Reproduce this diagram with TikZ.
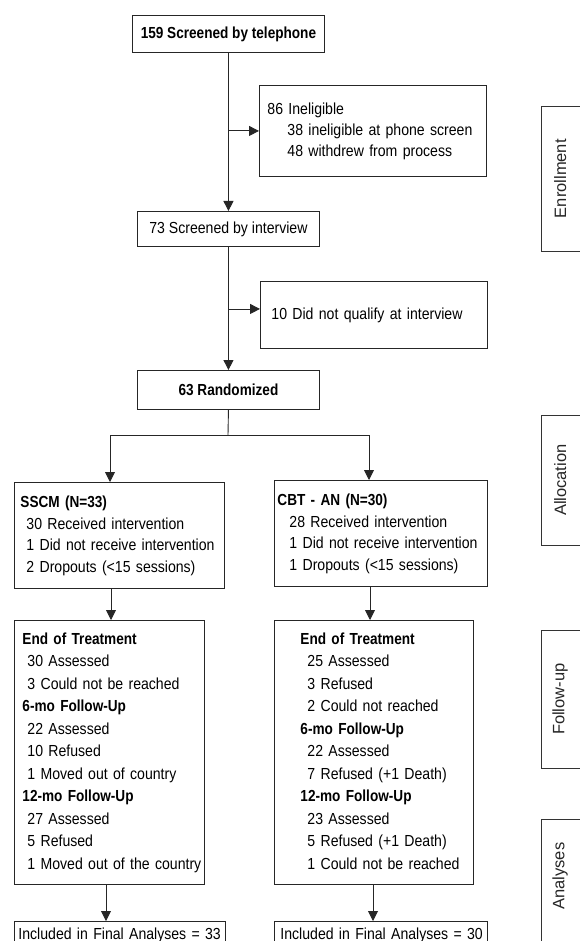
\documentclass[tikz,border=0pt]{standalone}
\usepackage{fontspec}
\usepackage{graphicx}
\setmainfont{Liberation Sans}[FakeStretch=0.88, BoldFeatures={FakeStretch=0.85}]
\newfontfamily\sidefont{Liberation Sans}
\usetikzlibrary{arrows.meta}
\newcommand\tb[1]{\begin{tabular}{@{}l@{}}#1\end{tabular}}
\newcommand\ind[1]{\hspace*{#1pt}}
\begin{document}
\begin{tikzpicture}[x=1pt,y=-1pt,
  box/.style={draw=black!85, line width=0.9pt, rectangle, anchor=north west,
    inner ysep=0pt, align=left, font=\fontsize{16}{22.5}\selectfont},
  cbox/.style={draw=black!85, line width=0.9pt, rectangle, anchor=north west,
    inner sep=0pt, align=center, font=\fontsize{16}{22.5}\selectfont},
  arr/.style={draw=black!85, line width=0.9pt, -{Triangle[length=10pt,width=10pt]}},
  ln/.style={draw=black!85, line width=0.9pt},
  sidebox/.style={rectangle, anchor=north west, inner sep=0pt,
    minimum width=38pt, font=\sidefont\fontsize{16.5}{19}\selectfont, text=black!85},
  sideln/.style={draw=black!80, line width=0.8pt}]
\useasboundingbox (0,0) rectangle (579,941);
\coordinate (bot) at (0,950);

% enrollment column
\node[cbox, minimum width=192pt, minimum height=37pt] (tel) at (132,15)
  {\textbf{159 Screened by telephone}};
\node[box, minimum width=227pt, minimum height=91pt, text width=211pt, inner xsep=8pt,
  font=\fontsize{16}{21}\selectfont] (inel) at (259,85)
  {\tb{86 Ineligible\\ \ind{20}38 ineligible at phone screen\\ \ind{20}48 withdrew from process}};
\node[cbox, minimum width=182pt, minimum height=35pt] (int) at (137,211)
  {73 Screened by interview};
\node[box, minimum width=227pt, minimum height=67pt, text width=205pt, inner xsep=11pt] (noq) at (260,281)
  {\tb{10 Did not qualify at interview}};
\node[cbox, minimum width=182pt, minimum height=39pt] (rand) at (137,370)
  {\textbf{63 Randomized}};

% allocation
\node[box, minimum width=210pt, minimum height=106pt, text width=198pt, inner xsep=6pt,
  font=\fontsize{16}{21.5}\selectfont] (sscm) at (14,482)
  {\tb{\textbf{SSCM (N=33)}\\ \ind{6}30 Received intervention\\ \ind{6}1 Did not receive intervention\\ \ind{6}2 Dropouts (<15 sessions)}};
\node[box, minimum width=213pt, minimum height=106pt, text width=207pt, inner xsep=3pt,
  font=\fontsize{16}{21.5}\selectfont] (cbt) at (274,480)
  {\tb{\textbf{CBT - AN (N=30)}\\ \ind{12}28 Received intervention\\ \ind{12}1 Did not receive intervention\\ \ind{12}1 Dropouts (<15 sessions)}};

% follow-up
\node[box, minimum width=190pt, minimum height=264pt, text width=174pt, inner xsep=8pt] (eotl) at (14,620)
  {\tb{\textbf{End of Treatment}\\ \ind{5}30 Assessed\\ \ind{5}3 Could not be reached\\
  \textbf{6-mo Follow-Up}\\ \ind{5}22 Assessed\\ \ind{5}10 Refused\\ \ind{5}1 Moved out of country\\
  \textbf{12-mo Follow-Up}\\ \ind{5}27 Assessed\\ \ind{5}5 Refused\\ \ind{5}1 Moved out of the country}};
\node[box, minimum width=199pt, minimum height=264pt, text width=147pt, inner xsep=26pt] (eotr) at (274,620)
  {\tb{\textbf{End of Treatment}\\ \ind{7}25 Assessed\\ \ind{7}3 Refused\\ \ind{7}2 Could not reached\\
  \textbf{6-mo Follow-Up}\\ \ind{7}22 Assessed\\ \ind{7}7 Refused (+1 Death)\\
  \textbf{12-mo Follow-Up}\\ \ind{7}23 Assessed\\ \ind{7}5 Refused (+1 Death)\\ \ind{7}1 Could not be reached}};

% analyses
\node[box, minimum width=211pt, minimum height=27pt, text width=203pt, inner xsep=4pt] (finl) at (14,921)
  {\tb{Included in Final Analyses = 33}};
\node[box, minimum width=213pt, minimum height=27pt, text width=201pt, inner xsep=6pt] (finr) at (274,921)
  {\tb{Included in Final Analyses = 30}};

% connectors
\coordinate (br) at (228,435);
\coordinate (brl) at (110,435);
\coordinate (brr) at (369,435);
\coordinate (xl1) at (111,0);
\coordinate (xr1) at (370,0);
\coordinate (xl2) at (106,0);
\coordinate (xr2) at (373,0);
\draw[arr] (tel) -- (int);
\draw[arr] (tel |- inel.west) -- (inel.west);
\draw[arr] (int) -- (rand);
\draw[arr] ([yshift=6pt]noq.west -| int) -- ([yshift=6pt]noq.west);
\draw[ln] (rand.south) -- (br);
\draw[arr] (br) -| (sscm.north -| brl);
\draw[arr] (br) -| (cbt.north -| brr);
\draw[arr] (sscm.south -| xl1) -- (eotl.north -| xl1);
\draw[arr] (cbt.south -| xr1) -- (eotr.north -| xr1);
\draw[arr] (eotl.south -| xl2) -- (finl.north -| xl2);
\draw[arr] (eotr.south -| xr2) -- (finr.north -| xr2);

% side labels
\node[sidebox, minimum height=145pt] (enr) at (541,106) {\rotatebox{90}{Enrollment}};
\node[sidebox, minimum height=130pt] (alc) at (541,415) {\rotatebox{90}{Allocation}};
\node[sidebox, minimum height=138pt] (fup) at (541,630) {\rotatebox{90}{Follow-up}};
\node[sidebox, minimum height=114pt] (ana) at (541,819) {\rotatebox{90}{Analyses}};
\draw[sideln] ([xshift=5pt]enr.north east) -- (enr.north west) -- (enr.south west) -- ([xshift=5pt]enr.south east);
\draw[sideln] ([xshift=5pt]alc.north east) -- (alc.north west) -- (alc.south west) -- ([xshift=5pt]alc.south east);
\draw[sideln] ([xshift=5pt]fup.north east) -- (fup.north west) -- (fup.south west) -- ([xshift=5pt]fup.south east);
\draw[sideln] ([xshift=5pt]ana.north east) -- (ana.north west) -- (ana.north west |- bot);
\end{tikzpicture}
\end{document}
